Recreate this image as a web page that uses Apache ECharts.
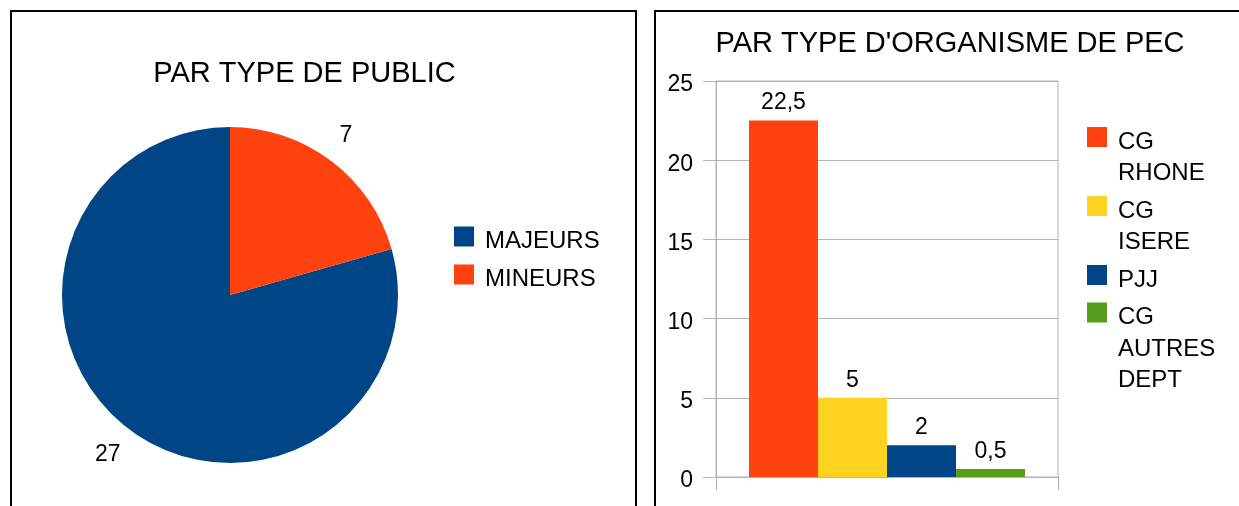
<!DOCTYPE html>
<html>
<head>
<meta charset="utf-8">
<script src="https://cdn.jsdelivr.net/npm/echarts@6/dist/echarts.min.js"></script>
<style>
  html, body { margin: 0; padding: 0; background: #fff; }
  #chart { width: 1239px; height: 506px; }
</style>
</head>
<body>
<div id="chart"></div>
<script>
const pieTitle = "PAR TYPE DE PUBLIC";
const pieNames = ["MAJEURS", "MINEURS"];
const pieValues = [27, 7];

const barTitle = "PAR TYPE D'ORGANISME DE PEC";
const barNames = ["CG RHONE", "CG ISERE", "PJJ", "CG AUTRES DEPT"];
const barValues = [22.5, 5, 2, 0.5];
const yMin = 0;
const yMax = 25;
const yStep = 5;

const font = "Liberation Sans";
const textColor = "#000000";
const gridColor = "#b3b3b3";
const palette = ["#ff420e", "#ffd320", "#004586", "#579d1c"];
const pieColors = ["#004586", "#ff420e"];
const lineH = 31.5;
// 20px square at the top of a 20x30 box, so the label centre falls a bit below it
const legendIcon = "path://M0,0h20v20h-20z M0,30";
const textDrop = 5;

const chart = echarts.init(document.getElementById("chart"), null, { renderer: "canvas" });

function comma(value) {
  return String(value).replace(".", ",");
}

function legendText(extra = {}) {
  return {
    color: textColor,
    fontFamily: font,
    fontSize: 24,
    lineHeight: lineH,
    padding: [0, 0, 0, 6],
    ...extra,
  };
}

// one legend per bar series; blank leading lines push the text down so the
// square sits beside the first line, as in the original
let iconY = 137;
const barLegends = barNames.map((name) => {
  const words = name.split(" ");
  const lines = words.length;
  const rows = 2 * lines - 1;
  const top = Math.min(iconY - 10, iconY + textDrop - (lineH / 2) * rows);
  iconY += lineH * lines + 6;
  return {
    data: [name],
    left: 1087,
    top,
    padding: 0,
    itemWidth: 20,
    itemHeight: 30,
    icon: legendIcon,
    selectedMode: false,
    formatter: () => "\n".repeat(lines - 1) + words.join("\n"),
    textStyle: legendText(),
  };
});

chart.setOption({
  animation: false,
  backgroundColor: "#ffffff",
  textStyle: { fontFamily: font, color: textColor },
  title: [
    {
      text: pieTitle,
      left: 304.5,
      top: 59,
      textAlign: "center",
      padding: 0,
      textStyle: { fontFamily: font, fontSize: 29, fontWeight: "normal", color: textColor },
    },
    {
      text: barTitle,
      left: 950,
      top: 29,
      textAlign: "center",
      padding: 0,
      textStyle: { fontFamily: font, fontSize: 29, fontWeight: "normal", color: textColor },
    },
  ],
  legend: [
    {
      data: pieNames,
      orient: "vertical",
      left: 454,
      top: 236.5 + textDrop - lineH / 2,
      padding: 0,
      itemGap: 6.5,
      itemWidth: 20,
      itemHeight: 30,
      icon: legendIcon,
      selectedMode: false,
      textStyle: legendText(),
    },
    ...barLegends,
  ],
  grid: {
    left: 716,
    top: 81,
    width: 342,
    height: 396,
    show: true,
    borderColor: gridColor,
    borderWidth: 1,
    backgroundColor: "transparent",
  },
  xAxis: {
    type: "category",
    data: [""],
    axisLine: { lineStyle: { color: gridColor, width: 1 } },
    axisTick: { show: true, length: 13, lineStyle: { color: gridColor } },
    axisLabel: { show: false },
    splitLine: { show: false },
  },
  yAxis: {
    type: "value",
    min: yMin,
    max: yMax,
    interval: yStep,
    axisLine: { show: true, lineStyle: { color: gridColor, width: 1 } },
    axisTick: { show: true, length: 13, lineStyle: { color: gridColor } },
    axisLabel: {
      color: textColor,
      fontFamily: font,
      fontSize: 23,
      margin: 23,
      verticalAlign: "top",
      lineHeight: 8,
    },
    splitLine: { lineStyle: { color: gridColor, width: 1 } },
  },
  graphic: [
    {
      type: "rect",
      shape: { x: 11, y: 11, width: 625, height: 600 },
      style: { fill: "none", stroke: "#000", lineWidth: 2 },
      silent: true,
    },
    {
      type: "rect",
      shape: { x: 655, y: 11, width: 700, height: 600 },
      style: { fill: "none", stroke: "#000", lineWidth: 2 },
      silent: true,
    },
  ],
  series: [
    {
      name: "public",
      type: "pie",
      center: [230, 295],
      radius: 168,
      startAngle: 90,
      clockwise: false,
      avoidLabelOverlap: false,
      itemStyle: { borderWidth: 0 },
      emphasis: { disabled: true },
      label: {
        show: true,
        position: "outside",
        formatter: (p) => comma(p.value),
        color: textColor,
        fontFamily: font,
        fontSize: 23,
        distanceToLabelLine: -11,
      },
      labelLine: { show: false, length: 32, length2: 0 },
      data: pieNames.map((name, i) => ({
        name,
        value: pieValues[i],
        itemStyle: { color: pieColors[i] },
      })),
    },
    ...barNames.map((name, i) => ({
      name,
      type: "bar",
      barGap: "0%",
      barCategoryGap: "19.3%",
      itemStyle: { color: palette[i] },
      emphasis: { disabled: true },
      label: {
        show: true,
        position: "top",
        distance: 6,
        formatter: (p) => comma(p.value),
        color: textColor,
        fontFamily: font,
        fontSize: 23,
      },
      data: [barValues[i]],
    })),
  ],
});
</script>
</body>
</html>
